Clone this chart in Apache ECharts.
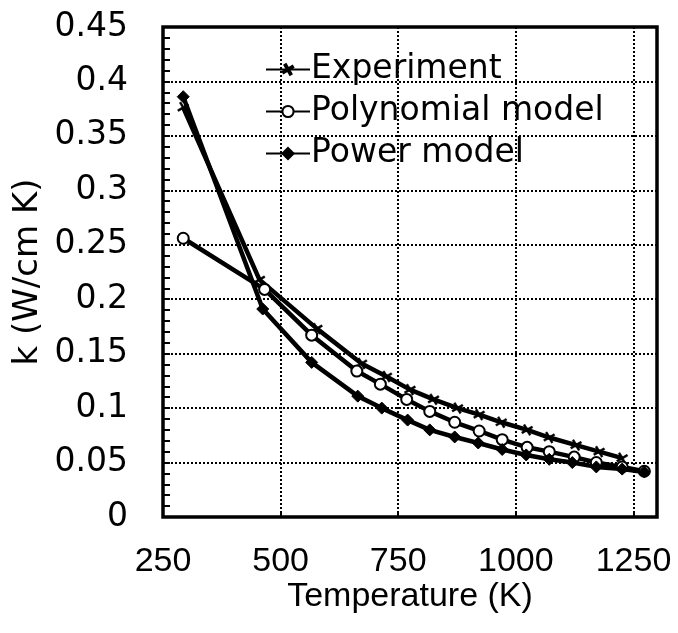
<!DOCTYPE html>
<html>
<head>
<meta charset="utf-8">
<script src="https://cdn.jsdelivr.net/npm/echarts@6/dist/echarts.min.js"></script>
<style>html,body{margin:0;padding:0;background:#fff;}#c{width:678px;height:633px;}</style>
</head>
<body>
<div id="c"></div>
<script>
const seriesNames = ['Experiment', 'Polynomial model', 'Power model'];
const expT = [293, 455, 577, 672, 725, 775, 825, 876, 922, 969, 1024, 1071, 1128, 1177, 1226];
const expK = [0.376, 0.218, 0.173, 0.141, 0.129, 0.117, 0.108, 0.100, 0.094, 0.087, 0.080, 0.073, 0.066, 0.060, 0.054];
const polyT = [293, 466, 566, 662, 712, 768, 817, 870, 922, 971, 1024, 1071, 1124, 1171, 1226, 1273];
const polyK = [0.256, 0.209, 0.167, 0.134, 0.122, 0.108, 0.097, 0.087, 0.079, 0.071, 0.064, 0.060, 0.055, 0.050, 0.046, 0.042];
const powT = [293, 462, 566, 664, 715, 770, 817, 870, 920, 971, 1022, 1071, 1120, 1171, 1226, 1273];
const powK = [0.386, 0.191, 0.142, 0.111, 0.100, 0.089, 0.080, 0.0735, 0.068, 0.062, 0.057, 0.053, 0.050, 0.046, 0.044, 0.0414];
const xTicks = [250, 500, 750, 1000, 1250];
const yTicks = [0, 0.05, 0.1, 0.15, 0.2, 0.25, 0.3, 0.35, 0.4, 0.45];

const pair = (xs, ys) => xs.map((x, i) => [x, ys[i]]);
const ARIAL = '"Liberation Sans", Arial, sans-serif';
const DEJAVU = '"DejaVu Sans", sans-serif';
const crossPath = 'path://M4.2,0H5.8V10H4.2Z M0,4.2H10V5.8H0Z';

const chart = echarts.init(document.getElementById('c'), null, {renderer: 'canvas'});
chart.setOption({
  backgroundColor: '#fff',
  animation: false,
  textStyle: {fontFamily: ARIAL, color: '#000'},
  grid: {left: 163, right: 21, top: 27, bottom: 116, show: true, borderColor: '#000', borderWidth: 3.5, backgroundColor: 'transparent'},
  legend: {
    orient: 'vertical', left: 260, top: 48,
    itemWidth: 44, itemHeight: 14, itemGap: 9,
    textStyle: {fontSize: 33, fontFamily: DEJAVU, color: '#000', lineHeight: 32, padding: [0, 0, 0, -4]},
    data: seriesNames
  },
  xAxis: {
    type: 'value', min: xTicks[0], max: 1300, interval: xTicks[1] - xTicks[0],
    name: 'Temperature (K)', nameLocation: 'middle', nameGap: 63, nameMoveOverlap: false,
    nameTextStyle: {fontSize: 34, fontFamily: ARIAL, color: '#000'},
    axisLine: {show: false},
    axisTick: {show: true, inside: true, length: 5, lineStyle: {color: '#000', width: 2}},
    axisLabel: {fontSize: 34, fontFamily: ARIAL, color: '#000', margin: 28, showMaxLabel: false,
      formatter: v => xTicks.includes(v) ? String(v) : ''},
    splitLine: {show: true, lineStyle: {color: '#000', type: 'dotted', width: 2}}
  },
  yAxis: {
    type: 'value', min: yTicks[0], max: yTicks[yTicks.length - 1], interval: yTicks[1] - yTicks[0],
    name: 'k (W/cm K)', nameLocation: 'middle', nameGap: 118, nameRotate: 90, nameMoveOverlap: false,
    nameTextStyle: {fontSize: 34, fontFamily: DEJAVU, color: '#000'},
    axisLine: {show: false},
    axisTick: {show: true, inside: true, length: 7, lineStyle: {color: '#000', width: 2}},
    minorTick: {show: true, splitNumber: 5, length: 7, lineStyle: {color: '#000', width: 2}},
    axisLabel: {fontSize: 33, fontFamily: DEJAVU, color: '#000', margin: 35,
      formatter: v => String(Math.round(v * 100) / 100)},
    splitLine: {show: true, lineStyle: {color: '#000', type: 'dotted', width: 2}}
  },
  series: [
    {
      name: seriesNames[0], type: 'line', data: pair(expT, expK),
      symbol: crossPath, symbolSize: 12, symbolRotate: 30,
      lineStyle: {color: '#000', width: 4.5},
      itemStyle: {color: '#000', borderColor: '#000', borderWidth: 0.5}
    },
    {
      name: seriesNames[1], type: 'line', data: pair(polyT, polyK),
      symbol: 'circle', symbolSize: 11,
      lineStyle: {color: '#000', width: 4.5},
      itemStyle: {color: '#fff', borderColor: '#000', borderWidth: 2}
    },
    {
      name: seriesNames[2], type: 'line', data: pair(powT, powK),
      symbol: 'diamond', symbolSize: 12,
      lineStyle: {color: '#000', width: 4.5},
      itemStyle: {color: '#000', borderColor: '#000', borderWidth: 1}
    }
  ]
});
</script>
</body>
</html>
